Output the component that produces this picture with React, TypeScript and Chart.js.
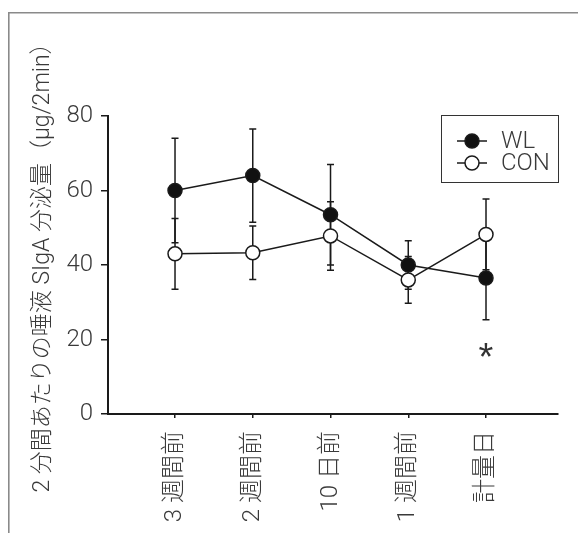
import { useEffect, useRef } from "react";
import { Chart, registerables } from "chart.js";

Chart.register(...registerables);

// ---- data ----
const categories = ["3 週間前", "2 週間前", "10 日前", "1 週間前", "計量日"];
const seriesNames = ["WL", "CON"];
const wlMean = [60, 64, 53.5, 40, 36.5];
const wlErr = [14, 12.5, 13.5, 6.5, 11.2];
const conMean = [43, 43.3, 47.8, 36, 48.2];
const conErr = [9.5, 7.2, 9.2, 6.3, 9.5];
const yTicks = [0, 20, 40, 60, 80];
const yTitle = "2 分間あたりの唾液 SIgA 分泌量（μg/2min）";
const marks = [{ index: 4, value: 17.2, text: "*" }];

const FONT = "Roboto, 'Noto Sans CJK JP', sans-serif";
const TEXT = "#3a3a3a";
const INK = "#1a1a1a";

const errors = [wlErr, conErr];

const framePlugin = {
  id: "frame",
  beforeDraw(chart: any) {
    const ctx = chart.ctx;
    ctx.save();
    ctx.strokeStyle = "#8a8a8a";
    ctx.lineWidth = 1.6;
    ctx.beginPath();
    ctx.moveTo(8.8, 533);
    ctx.lineTo(8.8, 12.8);
    ctx.lineTo(578, 12.8);
    ctx.stroke();
    ctx.restore();
  },
};

const errorBarPlugin = {
  id: "errorBars",
  beforeDatasetsDraw(chart: any) {
    const ctx = chart.ctx;
    const xs = chart.scales.x;
    const ys = chart.scales.y;
    ctx.save();
    ctx.strokeStyle = INK;
    ctx.lineWidth = 1.5;
    chart.data.datasets.forEach((ds: any, i: number) => {
      const err = errors[i];
      ds.data.forEach((p: any, j: number) => {
        const x = xs.getPixelForValue(p.x);
        const yt = ys.getPixelForValue(p.y + err[j]);
        const yb = ys.getPixelForValue(p.y - err[j]);
        ctx.beginPath();
        ctx.moveTo(x, yt);
        ctx.lineTo(x, yb);
        ctx.moveTo(x - 3.5, yt);
        ctx.lineTo(x + 3.5, yt);
        ctx.moveTo(x - 3.5, yb);
        ctx.lineTo(x + 3.5, yb);
        ctx.stroke();
      });
    });
    ctx.restore();
  },
};

const overlayPlugin = {
  id: "overlay",
  afterDraw(chart: any) {
    const ctx = chart.ctx;
    const xs = chart.scales.x;
    const ys = chart.scales.y;
    const area = chart.chartArea;
    ctx.save();
    // y axis title
    ctx.font = `300 23px ${FONT}`;
    ctx.fillStyle = TEXT;
    ctx.textAlign = "center";
    ctx.textBaseline = "middle";
    ctx.translate(43, (area.top + area.bottom) / 2 - 3);
    ctx.rotate(-Math.PI / 2);
    ctx.fillText(yTitle, 0, 0);
    ctx.restore();

    // asterisk marks
    ctx.save();
    ctx.font = `38px 'Liberation Sans', sans-serif`;
    ctx.fillStyle = "#333";
    ctx.textAlign = "center";
    ctx.textBaseline = "alphabetic";
    marks.forEach((m) => {
      const x = xs.getPixelForValue(m.index + 1);
      const y = ys.getPixelForValue(m.value);
      const mt = ctx.measureText(m.text);
      const off = (mt.actualBoundingBoxAscent - mt.actualBoundingBoxDescent) / 2;
      ctx.fillText(m.text, x, y + off);
    });
    ctx.restore();

    // legend
    ctx.save();
    const bx = 441.5, by = 115.5, bw = 117, bh = 67;
    ctx.strokeStyle = "#333";
    ctx.lineWidth = 1;
    ctx.strokeRect(bx, by, bw, bh);
    chart.data.datasets.forEach((ds: any, i: number) => {
      const y = 141 + i * 22;
      ctx.strokeStyle = INK;
      ctx.lineWidth = 1.5;
      ctx.beginPath();
      ctx.moveTo(457, y);
      ctx.lineTo(487, y);
      ctx.stroke();
      ctx.beginPath();
      ctx.arc(472, y, 7, 0, Math.PI * 2);
      ctx.fillStyle = ds.pointBackgroundColor;
      ctx.fill();
      ctx.stroke();
      ctx.font = `300 24px ${FONT}`;
      ctx.fillStyle = TEXT;
      ctx.textAlign = "left";
      ctx.textBaseline = "middle";
      ctx.fillText(ds.label, 501, y + 1);
    });
    ctx.restore();
  },
};

export default function App() {
  const ref = useRef<HTMLCanvasElement>(null);
  useEffect(() => {
    const canvas = ref.current;
    if (!canvas) return;
    const chart = new Chart(canvas, {
      type: "line",
      data: {
        datasets: [
          {
            label: seriesNames[0],
            data: wlMean.map((v, i) => ({ x: i + 1, y: v })),
            borderColor: INK,
            borderWidth: 1.5,
            pointRadius: 7,
            pointBorderWidth: 1.5,
            pointBackgroundColor: "#111",
            pointBorderColor: INK,
            tension: 0,
          },
          {
            label: seriesNames[1],
            data: conMean.map((v, i) => ({ x: i + 1, y: v })),
            borderColor: INK,
            borderWidth: 1.5,
            pointRadius: 7,
            pointBorderWidth: 1.5,
            pointBackgroundColor: "#ffffff",
            pointBorderColor: INK,
            tension: 0,
          },
        ],
      },
      options: {
        responsive: false,
        animation: false,
        devicePixelRatio: 1,
        layout: { padding: { top: 116, right: 20, bottom: 0, left: 0 } },
        plugins: {
          legend: { display: false },
          tooltip: { enabled: false },
          title: { display: false },
        },
        scales: {
          x: {
            type: "linear",
            min: 0.138,
            max: 5.926,
            afterBuildTicks: (s: any) => {
              s.ticks = categories.map((_, i) => ({ value: i + 1 }));
            },
            afterFit: (s: any) => {
              s.height = 119;
            },
            grid: {
              display: true,
              drawOnChartArea: false,
              drawTicks: true,
              tickLength: 4,
              color: INK,
              lineWidth: 1.5,
            },
            border: { display: true, color: INK, width: 2 },
            ticks: {
              autoSkip: false,
              minRotation: 90,
              maxRotation: 90,
              padding: 13,
              color: TEXT,
              font: { family: FONT, size: 24, weight: "300" as any },
              callback: (v: any) => categories[Number(v) - 1] ?? "",
            },
          },
          y: {
            min: 0,
            max: 80,
            afterBuildTicks: (s: any) => {
              s.ticks = yTicks.map((v) => ({ value: v }));
            },
            afterFit: (s: any) => {
              s.width = 108;
            },
            grid: {
              display: true,
              drawOnChartArea: false,
              drawTicks: true,
              tickLength: 7,
              color: INK,
              lineWidth: 1.5,
            },
            border: { display: true, color: INK, width: 2 },
            ticks: {
              padding: 8,
              color: TEXT,
              font: { family: FONT, size: 24, weight: "300" as any },
            },
          },
        },
      },
      plugins: [framePlugin, errorBarPlugin, overlayPlugin],
    });
    return () => chart.destroy();
  }, []);
  return (
    <div
      style={{
        position: "fixed",
        left: 0,
        top: 0,
        width: 578,
        height: 533,
        background: "#fff",
        overflow: "hidden",
      }}
    >
      <canvas
        ref={ref}
        width={578}
        height={533}
        style={{ display: "block", width: 578, height: 533 }}
      />
    </div>
  );
}
